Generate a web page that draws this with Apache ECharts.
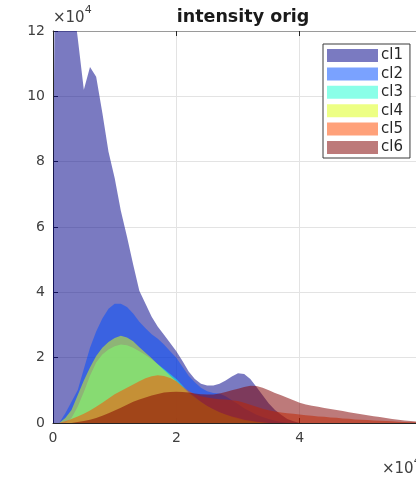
<!DOCTYPE html>
<html>
<head>
<meta charset="utf-8">
<script src="https://cdn.jsdelivr.net/npm/echarts@6/dist/echarts.min.js"></script>
<style>
  html, body { margin: 0; padding: 0; background: #fff; }
  #chart { width: 416px; height: 479px; }
</style>
</head>
<body>
<div id="chart"></div>
<script>
// Intensity histograms per cluster (x in units of 1e4, counts in units of 1e4)
const xs = [0, 0.03, 0.1, 0.2, 0.3, 0.4, 0.5, 0.6, 0.7, 0.8, 0.9, 1.0,
  1.1, 1.2, 1.3, 1.4, 1.5, 1.6, 1.7, 1.8, 1.9, 2.0,
  2.1, 2.2, 2.3, 2.4, 2.5, 2.6, 2.7, 2.8, 2.9, 3.0,
  3.1, 3.2, 3.3, 3.4, 3.5, 3.6, 3.7, 3.8, 3.9, 4.0,
  4.1, 4.2, 4.3, 4.4, 4.5, 4.6, 4.7, 4.8, 4.9, 5.0,
  5.1, 5.2, 5.3, 5.4, 5.5, 5.6, 5.7, 5.8, 5.9, 6.0];

const cl1 = [6.8, 13.5, 14.2, 14.0, 13.3, 11.8, 10.2, 10.9, 10.6, 9.5, 8.3, 7.5,
  6.5, 5.7, 4.85, 4.05, 3.65, 3.25, 2.95, 2.7, 2.45, 2.2,
  1.9, 1.58, 1.35, 1.2, 1.15, 1.15, 1.2, 1.3, 1.42, 1.52,
  1.5, 1.35, 1.1, 0.85, 0.6, 0.4, 0.25, 0.12, 0.05, 0,
  0, 0, 0, 0, 0, 0, 0, 0, 0, 0,
  0, 0, 0, 0, 0, 0, 0, 0, 0, 0];

const cl2 = [0, 0, 0, 0.3, 0.65, 1.0, 1.65, 2.3, 2.8, 3.2, 3.5, 3.65,
  3.65, 3.55, 3.35, 3.1, 2.9, 2.72, 2.58, 2.4, 2.2, 2.0,
  1.72, 1.45, 1.25, 1.08, 0.97, 0.92, 0.9, 0.82, 0.7, 0.58,
  0.45, 0.35, 0.25, 0.18, 0.12, 0.07, 0.03, 0, 0, 0,
  0, 0, 0, 0, 0, 0, 0, 0, 0, 0,
  0, 0, 0, 0, 0, 0, 0, 0, 0, 0];

const cl3 = [0, 0, 0, 0, 0.15, 0.5, 0.95, 1.45, 1.85, 2.1, 2.25, 2.35,
  2.4, 2.38, 2.3, 2.2, 2.08, 1.95, 1.8, 1.65, 1.5, 1.35,
  1.15, 0.95, 0.8, 0.65, 0.52, 0.42, 0.33, 0.25, 0.18, 0.12,
  0.08, 0.05, 0.02, 0, 0, 0, 0, 0, 0, 0,
  0, 0, 0, 0, 0, 0, 0, 0, 0, 0,
  0, 0, 0, 0, 0, 0, 0, 0, 0, 0];

const cl4 = [0, 0, 0, 0.15, 0.4, 0.85, 1.3, 1.7, 2.05, 2.3, 2.48, 2.6,
  2.67, 2.62, 2.5, 2.32, 2.15, 1.98, 1.8, 1.62, 1.45, 1.28,
  1.1, 0.92, 0.77, 0.64, 0.52, 0.42, 0.33, 0.26, 0.2, 0.15,
  0.1, 0.07, 0.04, 0.02, 0, 0, 0, 0, 0, 0,
  0, 0, 0, 0, 0, 0, 0, 0, 0, 0,
  0, 0, 0, 0, 0, 0, 0, 0, 0, 0];

const cl5 = [0, 0, 0, 0.05, 0.12, 0.2, 0.28, 0.38, 0.5, 0.62, 0.75, 0.88,
  0.98, 1.08, 1.18, 1.28, 1.37, 1.43, 1.46, 1.44, 1.38, 1.28,
  1.12, 0.98, 0.88, 0.82, 0.78, 0.75, 0.73, 0.72, 0.7, 0.67,
  0.62, 0.56, 0.5, 0.44, 0.39, 0.35, 0.32, 0.3, 0.28, 0.26,
  0.24, 0.22, 0.2, 0.19, 0.17, 0.16, 0.14, 0.13, 0.11, 0.1,
  0.09, 0.08, 0.07, 0.06, 0.05, 0.04, 0.03, 0.02, 0.02, 0.01];

const cl6 = [0, 0, 0, 0, 0, 0.03, 0.06, 0.1, 0.15, 0.22, 0.3, 0.38,
  0.47, 0.56, 0.65, 0.72, 0.78, 0.84, 0.89, 0.93, 0.95, 0.96,
  0.95, 0.93, 0.9, 0.88, 0.87, 0.87, 0.9, 0.95, 1.0, 1.05,
  1.1, 1.14, 1.13, 1.08, 1.0, 0.92, 0.85, 0.77, 0.7, 0.62,
  0.57, 0.53, 0.5, 0.46, 0.43, 0.4, 0.37, 0.33, 0.3, 0.27,
  0.24, 0.21, 0.18, 0.15, 0.12, 0.1, 0.08, 0.06, 0.04, 0.02];

const names = ['cl1', 'cl2', 'cl3', 'cl4', 'cl5', 'cl6'];
const values = [cl1, cl2, cl3, cl4, cl5, cl6];
const colors = [
  'rgba(0,0,136,0.52)',
  'rgba(0,77,255,0.52)',
  'rgba(30,255,210,0.52)',
  'rgba(220,255,20,0.52)',
  'rgba(255,75,0,0.52)',
  'rgba(128,0,0,0.52)'
];

const FONT = 'DejaVu Sans';
const chart = echarts.init(document.getElementById('chart'), null, { renderer: 'canvas' });

const series = names.map((name, i) => ({
  name: name,
  type: 'line',
  xAxisIndex: 0,
  yAxisIndex: 0,
  showSymbol: false,
  symbol: 'none',
  smooth: false,
  clip: true,
  lineStyle: { width: 0, color: colors[i] },
  itemStyle: { color: colors[i] },
  areaStyle: { color: colors[i], opacity: 1 },
  data: xs.map((x, k) => [x, values[i][k]])
}));

const expLabel = {
  text: '{a|×10}{b|4}',
  rich: {
    a: { fontFamily: FONT, fontSize: 15, fill: '#404040', padding: [6, 0, 0, 0] },
    b: { fontFamily: FONT, fontSize: 11, fill: '#404040', verticalAlign: 'top' }
  }
};

// The axes box runs a little past the right edge of the canvas
chart.setOption({
  animation: false,
  backgroundColor: '#ffffff',
  title: {
    text: 'intensity orig',
    left: 238,
    top: 3,
    textAlign: 'center',
    textStyle: { fontFamily: FONT, fontSize: 17.5, fontWeight: 'bold', color: '#1a1a1a' }
  },
  grid: { left: 53, top: 31, width: 370, height: 392, containLabel: false, outerBoundsMode: 'none' },
  legend: {
    orient: 'vertical',
    left: 323,
    top: 44,
    padding: [4, 7, 3, 4],
    itemWidth: 51,
    itemHeight: 13,
    itemGap: 3.4,
    icon: 'rect',
    backgroundColor: '#ffffff',
    borderColor: '#3a3a3a',
    borderWidth: 1,
    textStyle: { fontFamily: FONT, fontSize: 15, color: '#262626', padding: [0, 0, 0, -2] },
    data: names.map((n, i) => ({ name: n, icon: 'rect', itemStyle: { color: colors[i] } }))
  },
  xAxis: [{
    type: 'value',
    min: 0, max: 6, interval: 2,
    position: 'bottom',
    axisLine: { show: true, onZero: false, lineStyle: { color: '#262626', width: 1 } },
    axisTick: { show: true, inside: true, length: 5, lineStyle: { color: '#262626' } },
    axisLabel: { fontFamily: FONT, fontSize: 14, color: '#404040', margin: 8 },
    splitLine: { show: true, lineStyle: { color: '#e3e3e3', width: 1 } }
  }, {
    type: 'value',
    min: 0, max: 6, interval: 2,
    position: 'top',
    axisLine: { show: true, onZero: false, lineStyle: { color: '#9a9a9a', width: 1 } },
    axisTick: { show: true, inside: true, length: 5, lineStyle: { color: '#262626' } },
    axisLabel: { show: false },
    splitLine: { show: false }
  }],
  yAxis: {
    type: 'value',
    min: 0, max: 12, interval: 2,
    axisLine: { show: true, onZero: false, lineStyle: { color: '#262626', width: 1 } },
    axisTick: { show: true, inside: true, length: 5, lineStyle: { color: '#262626' } },
    axisLabel: { fontFamily: FONT, fontSize: 14, color: '#404040', margin: 8 },
    splitLine: { show: true, lineStyle: { color: '#e3e3e3', width: 1 } }
  },
  graphic: [
    { type: 'text', x: 53, y: 5, style: expLabel },
    { type: 'text', x: 382, y: 456, style: expLabel }
  ],
  series: series
});
</script>
</body>
</html>
